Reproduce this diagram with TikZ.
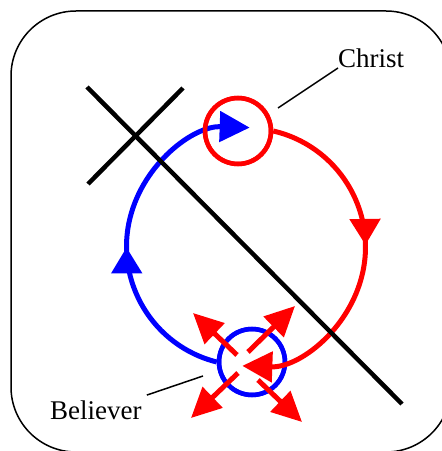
\documentclass[tikz,border=0pt]{standalone}
\usepackage{fontspec}
\setmainfont{Liberation Serif}
\usetikzlibrary{arrows.meta,decorations.markings}

\begin{document}
\begin{tikzpicture}[x=1pt, y=1pt,
    bar/.style={line width=4.5pt, black},
    ring/.style={circle, draw, line width=4.5pt, minimum size=66pt, inner sep=0pt},
    orbit/.style={line width=5pt, -{Triangle[length=30pt, width=30pt]}},
    midtip/.style={postaction={decorate, decoration={markings,
        mark=at position #1 with {\arrow{Triangle[length=26pt, width=30pt]}}}}},
    burst/.style={red, line width=5pt, -{Triangle[length=30pt, width=28pt]}},
    leader/.style={line width=1.5pt},
    lbl/.style={font=\fontsize{27}{30}\selectfont, inner sep=0pt}
]
    % Frame
    \useasboundingbox (0,0) rectangle (442,451);
    \draw[line width=1.5pt, rounded corners=65pt] (11,-1) rectangle (451,440);

    % Christ and believer
    \node[ring, red] (christ) at (238,320) {};
    \node[ring, blue] (believer) at (252,89) {};

    % Blue arc: believer up to Christ
    \draw[orbit, blue, midtip=0.45] (believer.west) arc[start angle=256, end angle=88, radius=119pt];
    \node[ring, red] at (christ) {};
    \node[ring, blue] at (believer) {};

    % Red arc: Christ down to believer
    \draw[orbit, red, midtip=0.45] (christ.east) arc[start angle=77, end angle=-92, radius=119pt];

    % Burst out of the believer
    \foreach \sx/\sy/\dx/\dy in {-15/7/-44/42, -4/10/47/46, -14/-11/-47/-45, 6/-18/44/-42} {
        \draw[burst] ([shift={(\sx,\sy)}]believer.center) -- ++(\dx,\dy);
    }

    % Cross
    \draw[bar] (87,364) -- (402,47);
    \draw[bar] (88,267) -- (183,363);

    % Labels
    \node[lbl, anchor=base west] (christlbl) at (338,383) {Christ};
    \coordinate (christpin) at (278,343);
    \draw[leader] (christlbl.base west) -- (christpin);

    \node[lbl, anchor=base west] (believerlbl) at (50,31) {Believer};
    \coordinate (believerpin) at (203,75);
    \draw[leader] ([shift={(5,6)}]believerlbl.north east) -- (believerpin);
\end{tikzpicture}
\end{document}
